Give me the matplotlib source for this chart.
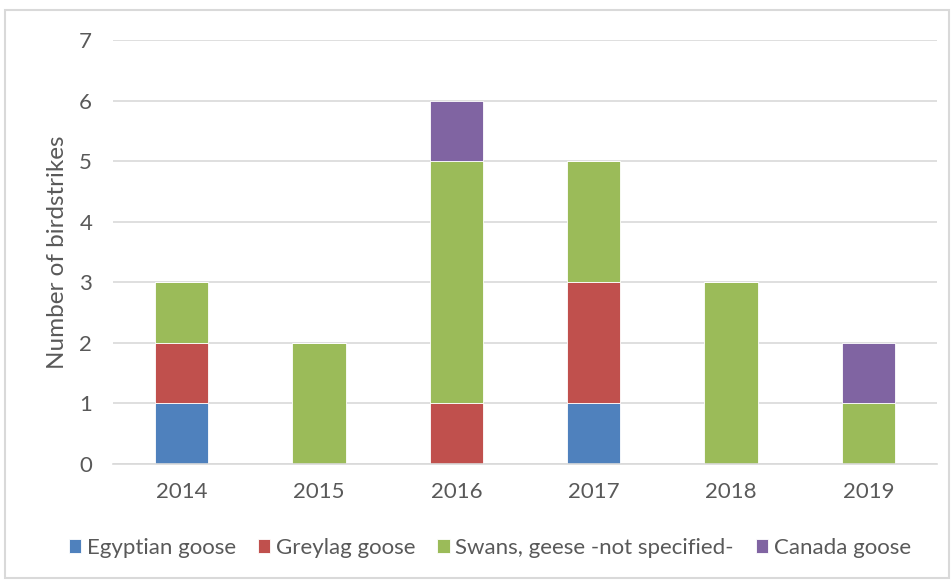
import matplotlib
matplotlib.use("Agg")
import matplotlib.pyplot as plt
from matplotlib.patches import Rectangle
import numpy as np

years = ["2014", "2015", "2016", "2017", "2018", "2019"]
egyptian = [1, 0, 0, 1, 0, 0]
greylag = [1, 0, 1, 2, 0, 0]
swans = [1, 2, 4, 2, 3, 1]
canada = [0, 0, 1, 0, 0, 1]

series = [
    ("Egyptian goose", egyptian, "#4F81BD"),
    ("Greylag goose", greylag, "#C0504D"),
    ("Swans, geese -not specified-", swans, "#9BBB59"),
    ("Canada goose", canada, "#8064A2"),
]

plt.rcParams["font.family"] = ["Lato", "DejaVu Sans"]
txt = "#595959"

fig = plt.figure(figsize=(9.53, 5.83), dpi=100)
ax = fig.add_axes([113 / 953, 119 / 583, 824 / 953, 424 / 583])

x = np.arange(len(years))
bottom = np.zeros(len(years))
for name, vals, col in series:
    vals = np.array(vals, dtype=float)
    ax.bar(x, vals, 0.39, bottom=bottom, color=col, label=name,
           edgecolor="white", linewidth=0.6)
    bottom += vals

ax.set_xlim(-0.5, len(years) - 0.5)
ax.set_ylim(0, 7)
ax.set_yticks(range(8))
ax.set_xticks(x)
ax.set_xticklabels(years)
ax.yaxis.grid(True, color="#D9D9D9", linewidth=1.2)
ax.set_axisbelow(True)
for s in ["top", "right", "left"]:
    ax.spines[s].set_visible(False)
ax.spines["bottom"].set_color("#D9D9D9")
ax.spines["bottom"].set_linewidth(1.2)
ax.tick_params(length=0, labelsize=16, colors=txt)
ax.tick_params(axis="x", pad=13)
ax.tick_params(axis="y", pad=15)
ax.set_ylabel("Number of birdstrikes", fontsize=17.5, color=txt, labelpad=8)

leg = fig.legend(loc="center", bbox_to_anchor=(0.514, 0.06), ncol=4,
                 frameon=False, fontsize=16, handlelength=0.55, handleheight=0.55,
                 handletextpad=0.25, columnspacing=1.0)
for t in leg.get_texts():
    t.set_color(txt)

fig.patches.append(Rectangle((5 / 953, 5 / 583), 944 / 953, 568 / 583,
                             transform=fig.transFigure, fill=False,
                             edgecolor="#D9D9D9", linewidth=1.5))

fig.savefig("out.png", dpi=100)
